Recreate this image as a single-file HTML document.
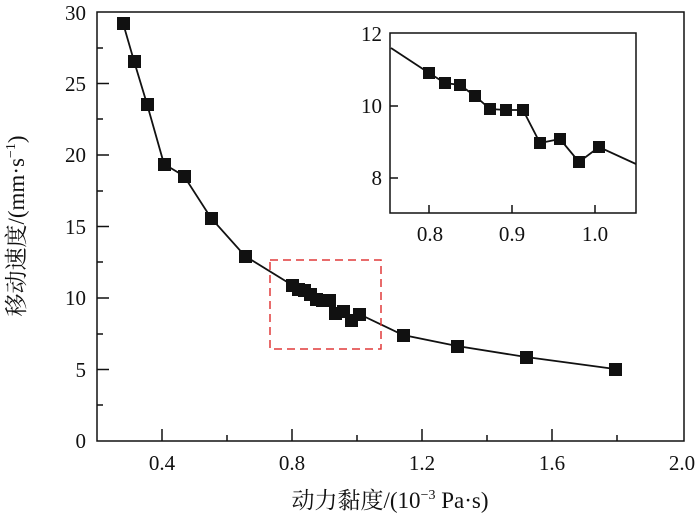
<!DOCTYPE html>
<html><head><meta charset="utf-8"><style>
body{margin:0;background:#fff}
text{font-family:"Liberation Serif","Noto Serif CJK SC",serif;fill:#111}
</style></head><body>
<svg width="700" height="520" viewBox="0 0 700 520" xmlns="http://www.w3.org/2000/svg">
<rect x="97" y="12" width="587" height="429" fill="none" stroke="#111" stroke-width="1.5"/>
<g stroke="#111" stroke-width="1.5">
<line x1="97" y1="369.5" x2="109" y2="369.5"/><line x1="97" y1="298" x2="109" y2="298"/><line x1="97" y1="226.5" x2="109" y2="226.5"/><line x1="97" y1="155" x2="109" y2="155"/><line x1="97" y1="83.5" x2="109" y2="83.5"/>
<line x1="97" y1="405" x2="103" y2="405"/><line x1="97" y1="334" x2="103" y2="334"/><line x1="97" y1="262" x2="103" y2="262"/><line x1="97" y1="191" x2="103" y2="191"/><line x1="97" y1="119" x2="103" y2="119"/><line x1="97" y1="48" x2="103" y2="48"/>
<line x1="162" y1="441" x2="162" y2="429"/><line x1="292" y1="441" x2="292" y2="429"/><line x1="422" y1="441" x2="422" y2="429"/><line x1="552" y1="441" x2="552" y2="429"/>
<line x1="227" y1="441" x2="227" y2="435"/><line x1="357" y1="441" x2="357" y2="435"/><line x1="487" y1="441" x2="487" y2="435"/><line x1="617" y1="441" x2="617" y2="435"/>
</g>
<g font-size="21" text-anchor="end">
<text x="86" y="448">0</text><text x="86" y="377">5</text><text x="86" y="305">10</text><text x="86" y="234">15</text><text x="86" y="162">20</text><text x="86" y="91">25</text><text x="86" y="20">30</text>
</g>
<g font-size="21" text-anchor="middle">
<text x="162" y="470">0.4</text><text x="292" y="470">0.8</text><text x="422" y="470">1.2</text><text x="552" y="470">1.6</text><text x="682" y="470">2.0</text>
</g>
<text x="390" y="508" font-size="23" text-anchor="middle">动力黏度/(10<tspan dy="-9" font-size="14">−3</tspan><tspan dy="9"> Pa·s)</tspan></text>
<text transform="translate(24,226) rotate(-90)" font-size="23" text-anchor="middle">移动速度/(mm·s<tspan dy="-9" font-size="14">−1</tspan><tspan dy="9">)</tspan></text>
<polyline fill="none" stroke="#111" stroke-width="1.8" points="123,23 134,61 147,104 164,164 184,176 211,218 245,256 292,285 298,289 304,290 310,294 316,299 322,300 329,300 335,313 343,311 351,320 359,314 403,335 457,346 526,357 615,369"/>
<g fill="#111">
<rect x="117" y="17" width="13" height="13"/><rect x="128" y="55" width="13" height="13"/><rect x="141" y="98" width="13" height="13"/><rect x="158" y="158" width="13" height="13"/><rect x="178" y="170" width="13" height="13"/><rect x="205" y="212" width="13" height="13"/><rect x="239" y="250" width="13" height="13"/>
<rect x="286" y="279" width="13" height="13"/><rect x="292" y="283" width="13" height="13"/><rect x="298" y="284" width="13" height="13"/><rect x="304" y="288" width="13" height="13"/><rect x="310" y="293" width="13" height="13"/><rect x="316" y="294" width="13" height="13"/><rect x="323" y="294" width="13" height="13"/><rect x="329" y="307" width="13" height="13"/><rect x="337" y="305" width="13" height="13"/><rect x="345" y="314" width="13" height="13"/><rect x="353" y="308" width="13" height="13"/>
<rect x="397" y="329" width="13" height="13"/><rect x="451" y="340" width="13" height="13"/><rect x="520" y="351" width="13" height="13"/><rect x="609" y="363" width="13" height="13"/>
</g>
<rect x="270" y="260" width="111" height="89" fill="none" stroke="#e03a3a" stroke-width="1.5" stroke-dasharray="8,5"/>
<rect x="390" y="33" width="246" height="180" fill="#fff" stroke="#111" stroke-width="1.5"/>
<g stroke="#111" stroke-width="1.5">
<line x1="429" y1="213" x2="429" y2="205"/><line x1="512" y1="213" x2="512" y2="205"/><line x1="595" y1="213" x2="595" y2="205"/>
<line x1="390" y1="106" x2="398" y2="106"/><line x1="390" y1="178" x2="398" y2="178"/>
</g>
<g font-size="21" text-anchor="end">
<text x="382" y="185">8</text><text x="382" y="113">10</text><text x="382" y="41">12</text>
</g>
<g font-size="21" text-anchor="middle">
<text x="430" y="241">0.8</text><text x="512" y="241">0.9</text><text x="595" y="241">1.0</text>
</g>
<polyline fill="none" stroke="#111" stroke-width="1.8" points="391,48 429,73 445,83 460,85 475,96 490,109 506,110 523,110 540,143 560,139 579,162 599,147 636,164"/>
<g fill="#111">
<rect x="423" y="67" width="12" height="12"/><rect x="439" y="77" width="12" height="12"/><rect x="454" y="79" width="12" height="12"/><rect x="469" y="90" width="12" height="12"/><rect x="484" y="103" width="12" height="12"/><rect x="500" y="104" width="12" height="12"/><rect x="517" y="104" width="12" height="12"/><rect x="534" y="137" width="12" height="12"/><rect x="554" y="133" width="12" height="12"/><rect x="573" y="156" width="12" height="12"/><rect x="593" y="141" width="12" height="12"/>
</g>
</svg>
</body></html>
